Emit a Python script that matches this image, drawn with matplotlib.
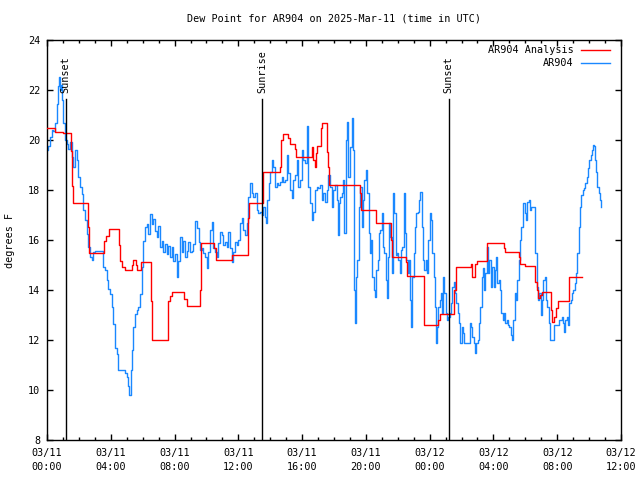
import datetime as dt

import matplotlib
matplotlib.use("Agg")
import matplotlib.pyplot as plt
from matplotlib.ticker import MultipleLocator

START = dt.datetime(2025, 3, 11, 0, 0)
STATION = "AR904"

# observed dew point (deg F), hours since 03/11 00:00 UTC
obs_hours = [
    0.00, 0.08, 0.19, 0.29, 0.40, 0.50, 0.61, 0.71, 0.75, 0.82, 0.88, 0.96, 1.02, 1.13, 1.23, 1.34,
    1.44, 1.55, 1.65, 1.76, 1.86, 1.97, 2.07, 2.17, 2.28, 2.38, 2.49, 2.59, 2.70, 2.80, 2.91, 3.01,
    3.22, 3.43, 3.53, 3.64, 3.74, 3.85, 3.95, 4.06, 4.16, 4.27, 4.37, 4.47, 4.68, 4.89, 5.00, 5.10,
    5.16, 5.27, 5.35, 5.41, 5.52, 5.62, 5.73, 5.83, 5.94, 6.04, 6.15, 6.25, 6.36, 6.46, 6.56, 6.67,
    6.77, 6.88, 6.98, 7.09, 7.19, 7.30, 7.40, 7.51, 7.61, 7.71, 7.82, 7.92, 8.03, 8.13, 8.24, 8.34,
    8.45, 8.55, 8.66, 8.76, 8.86, 8.97, 9.07, 9.18, 9.28,
    9.43, 9.51, 9.60, 9.70, 9.80, 9.91, 10.01, 10.12, 10.22, 10.33, 10.43, 10.54, 10.64, 10.75, 10.85, 10.95,
    11.06, 11.16, 11.27, 11.37, 11.48, 11.58, 11.69, 11.79, 11.90, 12.00, 12.10, 12.21, 12.31, 12.42, 12.52, 12.63,
    12.73, 12.84, 12.94, 13.05, 13.15, 13.26, 13.36, 13.46, 13.57, 13.67, 13.74, 13.82, 13.90, 13.99, 14.09, 14.20,
    14.30, 14.40, 14.51, 14.61, 14.72, 14.82, 14.93, 15.03, 15.14, 15.24, 15.35, 15.45, 15.55, 15.66, 15.76, 15.87,
    15.97, 16.08, 16.18, 16.29, 16.39, 16.50, 16.60, 16.70, 16.81, 16.91, 17.02, 17.12, 17.23, 17.33, 17.44, 17.54,
    17.65, 17.75, 17.85, 17.96, 18.06, 18.17, 18.23, 18.31, 18.38,
    18.48, 18.59, 18.65, 18.73, 18.79, 18.86, 18.94, 19.02, 19.11, 19.17, 19.23, 19.28, 19.32, 19.38, 19.46, 19.57,
    19.65, 19.74, 19.82, 19.90, 19.99, 20.07, 20.17, 20.24, 20.32, 20.40, 20.49, 20.57, 20.66, 20.74, 20.82, 20.91,
    20.99, 21.07, 21.16, 21.24, 21.30, 21.37, 21.45, 21.53, 21.62, 21.70, 21.78, 21.87, 21.95, 22.04, 22.12, 22.20,
    22.29, 22.37, 22.45, 22.54, 22.62, 22.70, 22.79, 22.85, 22.91, 23.00, 23.08, 23.16, 23.25, 23.33, 23.41, 23.50,
    23.58, 23.67, 23.75, 23.83, 23.92, 24.00, 24.08, 24.17, 24.25, 24.34, 24.40, 24.46, 24.54, 24.63, 24.71, 24.80,
    24.86, 24.92, 25.00, 25.09, 25.17, 25.26, 25.34, 25.42, 25.51, 25.59, 25.67, 25.76, 25.84, 25.92, 26.01, 26.09,
    26.17, 26.32, 26.43, 26.51, 26.59, 26.68, 26.76, 26.84, 26.93, 27.01, 27.09, 27.18, 27.26, 27.35, 27.43, 27.47,
    27.58, 27.66, 27.74, 27.83, 27.91, 28.01, 28.08, 28.16, 28.24, 28.33, 28.41, 28.50, 28.58, 28.66, 28.75, 28.83,
    28.91, 29.00, 29.08, 29.16, 29.25, 29.33, 29.41, 29.50, 29.58, 29.67, 29.75, 29.83, 29.87, 29.96, 30.04, 30.13,
    30.21, 30.29, 30.38, 30.50, 30.59, 30.63, 30.71, 30.79, 30.88, 30.96, 31.05, 31.13, 31.21, 31.30, 31.38, 31.46,
    31.55, 31.71, 31.80, 32.01, 32.09, 32.28, 32.38, 32.45, 32.51, 32.59, 32.68, 32.76, 32.84, 32.93, 33.01, 33.09,
    33.18, 33.26, 33.35, 33.43, 33.51, 33.60, 33.68, 33.76, 33.85, 33.93, 34.01, 34.10, 34.18, 34.26, 34.31, 34.37,
    34.43, 34.52, 34.60, 34.68, 34.77,
]
obs_dewpt = [
    19.6, 19.77, 20.1, 20.4, 20.37, 20.7, 21.44, 22.17, 22.5, 22.0, 22.2, 21.6, 20.7, 20.0, 19.84, 19.64,
    19.9, 19.3, 18.9, 19.6, 19.2, 18.5, 18.1, 17.84, 17.2, 16.8, 16.24, 15.7, 15.3, 15.2, 15.5, 15.55,
    15.55, 15.55, 14.9, 14.8, 14.4, 14.04, 13.84, 13.3, 12.64, 11.7, 11.44, 10.8, 10.8, 10.7, 10.5, 10.17,
    9.8, 10.8, 11.6, 12.5, 13.04, 13.2, 13.3, 13.84, 14.9, 15.97, 16.5, 16.64, 16.24, 17.04, 16.64, 16.84,
    16.37, 16.1, 16.57, 15.7, 15.97, 15.5, 15.84, 15.44, 15.77, 15.3, 15.7, 15.17, 15.44, 14.5, 15.17, 16.1,
    15.5, 15.97, 15.3, 15.57, 15.9, 15.5, 15.57, 15.84, 16.77,
    16.47, 15.93, 15.6, 15.67, 15.47, 15.33, 14.87, 15.53, 16.4, 16.7, 15.67, 15.53, 15.33, 15.87, 16.33, 16.2,
    15.8, 15.93, 15.73, 16.33, 15.67, 15.13, 15.53, 15.93, 15.8, 16.0, 16.67, 16.87, 16.4, 16.2, 16.67, 17.73,
    18.27, 17.87, 17.73, 17.87, 17.2, 17.07, 17.13, 17.0, 17.33, 16.93, 16.67, 17.6, 18.27, 18.73, 19.2, 18.93,
    18.13, 18.27, 18.2, 18.33, 18.53, 18.33, 18.4, 19.4, 18.67, 18.0, 17.67, 18.4, 18.6, 19.2, 18.13, 18.4,
    19.6, 19.2, 19.07, 20.56, 18.13, 17.47, 16.8, 17.13, 18.0, 18.13, 18.07, 18.2, 17.6, 17.87, 17.53, 18.0,
    18.6, 18.13, 17.33, 18.0, 18.2, 17.6, 16.2, 17.47, 17.73,
    17.87, 18.4, 16.27, 20.0, 20.73, 18.53, 18.53, 19.73, 20.87, 19.6, 17.6, 14.0, 12.67, 14.53, 15.2, 17.33,
    18.13, 16.53, 17.6, 18.4, 18.8, 17.87, 16.27, 15.47, 16.0, 14.53, 14.0, 13.73, 14.8, 15.2, 16.27, 16.4,
    17.07, 15.73, 15.47, 14.4, 13.67, 15.33, 16.67, 16.13, 14.67, 17.87, 17.07, 15.4, 15.47, 15.2, 14.67, 15.6,
    15.73, 17.87, 16.27, 15.2, 14.67, 15.2, 13.6, 12.53, 14.53, 15.47, 16.53, 17.07, 17.13, 17.6, 17.93, 16.53,
    15.2, 14.8, 15.2, 14.67, 16.0, 17.07, 16.8, 15.47, 14.53, 13.33, 11.87, 12.53, 13.33, 13.6, 13.87, 13.07,
    14.53, 13.87, 13.07, 12.8, 12.93, 13.07, 13.47, 14.13, 14.33, 13.87, 13.47, 13.07, 12.67, 11.87, 12.53, 12.27,
    11.87, 11.87, 11.87, 12.67, 12.53, 12.13, 11.87, 11.47, 11.87, 12.0, 12.67, 13.33, 14.53, 14.87, 14.0, 14.67,
    15.73, 14.67, 15.2, 14.13, 14.93, 14.13, 14.8, 15.33, 14.27, 14.4, 14.0, 13.07, 12.8, 13.07, 12.67, 12.8,
    12.6, 12.53, 12.2, 12.0, 12.8, 13.87, 13.6, 14.4, 15.2, 16.0, 16.53, 17.2, 17.47, 17.07, 16.8, 17.53,
    17.6, 17.2, 17.33, 17.33, 17.33, 15.47, 14.13, 13.6, 13.87, 13.0, 13.6, 14.4, 14.53, 13.6, 13.33, 12.67,
    12.0, 12.0, 12.6, 12.6, 12.8, 12.93, 12.67, 12.33, 12.8, 12.93, 12.6, 13.47, 13.6, 13.87, 14.0, 14.27,
    14.67, 15.47, 16.53, 17.33, 17.8, 18.0, 18.07, 18.27, 18.53, 18.87, 19.2, 19.4, 19.6, 19.8, 19.76, 19.2,
    18.73, 18.13, 17.87, 17.6, 17.33,
]

# analysis dew point, value holds from each time until the next
ana_hours = [
    0.00, 0.50, 1.02, 1.53, 1.59, 1.65, 2.57, 2.63, 3.58, 3.70, 3.89, 4.52, 4.60, 4.72, 4.89, 5.31,
    5.39, 5.56, 5.62, 5.87, 6.52, 6.59, 7.57, 7.69, 7.84, 8.59, 8.78,
    9.58, 9.66, 10.50, 10.58, 11.60, 12.59, 12.67, 13.55, 14.59, 14.68, 14.78, 15.14, 15.24, 15.58, 15.64,
    16.62, 16.70, 16.79, 16.85, 16.91, 17.16, 17.27, 17.56, 17.60, 17.67,
    19.61, 19.67, 20.61, 20.66, 21.60, 21.66, 22.49, 22.58, 23.62, 23.67, 24.50, 24.63, 25.51, 25.63,
    26.60, 26.66, 26.84, 26.95,
    27.62, 28.66, 28.72, 29.60, 29.67, 29.98, 30.63, 30.71, 30.79, 30.92, 31.05, 31.61, 31.67, 31.80,
    31.92, 32.03, 32.74, 33.58,
]
ana_dewpt = [
    20.48, 20.33, 20.27, 19.57, 18.17, 17.48, 16.5, 15.48, 15.97, 16.17, 16.44, 15.8, 15.17, 14.9, 14.8, 15.0,
    15.2, 15.0, 14.8, 15.1, 13.57, 12.0, 13.57, 13.77, 13.9, 13.64, 13.36,
    14.0, 15.87, 15.67, 15.2, 15.4, 16.87, 17.47, 18.7, 18.93, 20.0, 20.24, 20.07, 19.84, 19.63, 19.33,
    19.73, 19.2, 18.93, 19.47, 19.76, 20.47, 20.7, 19.5, 18.93, 18.2,
    17.87, 17.2, 17.0, 16.67, 16.0, 15.3, 15.13, 14.56, 13.6, 12.6, 12.8, 13.04, 14.0, 14.9,
    15.03, 14.53, 15.03, 15.16,
    15.87, 15.67, 15.5, 15.3, 15.03, 14.96, 14.33, 14.0, 13.67, 13.8, 13.93, 13.2, 12.73, 12.93,
    13.27, 13.56, 14.53, 14.53,
]

sun_hours = [1.17, 13.50, 25.19]
sun_labels = ["Sunset", "Sunrise", "Sunset"]
xtick_hours = [0, 4, 8, 12, 16, 20, 24, 28, 32, 36]
ytick_vals = [8, 10, 12, 14, 16, 18, 20, 22, 24]

plt.rcParams["font.family"] = "DejaVu Sans Mono"
plt.rcParams["font.size"] = 7.3

fig = plt.figure(figsize=(6.4, 4.8), dpi=100)
ax = fig.add_axes([47 / 640, 40 / 480, 574 / 640, 400 / 480])

ax.plot(ana_hours, ana_dewpt, color="#ff0000", lw=1.0, drawstyle="steps-post",
        label=f"{STATION} Analysis", zorder=3)
ax.plot(obs_hours, obs_dewpt, color="#1a88ff", lw=1.0, drawstyle="steps-post",
        label=STATION, zorder=2)

for h, name in zip(sun_hours, sun_labels):
    ax.plot([h, h], [8, 21.65], color="black", lw=1.0, zorder=4)
    ax.text(h, 21.87, name, rotation=90, ha="center", va="bottom")

ax.set_xlim(0, 36)
ax.set_ylim(8, 24)
ax.set_xticks(xtick_hours)
labels = []
for h in xtick_hours:
    t = START + dt.timedelta(hours=h)
    labels.append(t.strftime("%m/%d\n%H:%M"))
ax.set_xticklabels(labels, linespacing=1.45)
ax.xaxis.set_minor_locator(MultipleLocator(1))
ax.set_yticks(ytick_vals)

ax.tick_params(which="both", direction="in", top=True, right=True, width=1.0, colors="black")
ax.tick_params(which="major", length=4.0)
ax.tick_params(which="minor", length=2.0)
ax.tick_params(axis="x", which="major", pad=6)
ax.tick_params(axis="y", which="major", pad=5)
for sp in ax.spines.values():
    sp.set_linewidth(1.0)

ax.set_ylabel("degrees F")
ax.yaxis.set_label_coords(-0.056, 0.5)

ax.text(0.5, 1 + 21 / 400, f"Dew Point for {STATION} on 2025-Mar-11 (time in UTC)",
        transform=ax.transAxes, ha="center", va="center")

ax.legend(loc="upper right", bbox_to_anchor=(0.9878, 0.9975), borderaxespad=0,
          frameon=False, markerfirst=False, handlelength=2.9, handletextpad=0.7,
          labelspacing=0.3)

fig.savefig("out.png", dpi=100)
